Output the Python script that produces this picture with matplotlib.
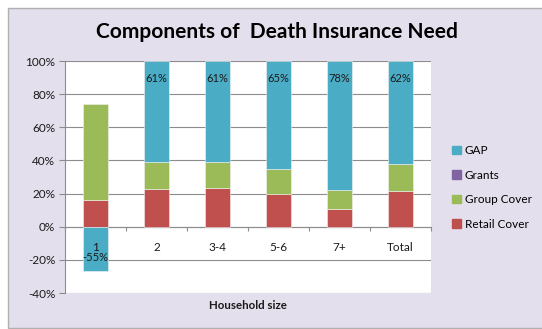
import matplotlib
matplotlib.use("Agg")
import matplotlib.pyplot as plt
from matplotlib.patches import Rectangle
from matplotlib.ticker import FuncFormatter, FixedLocator
import numpy as np

plt.rcParams['font.family'] = ['Lato', 'DejaVu Sans']

# Household size categories
categories = ["1", "2", "3-4", "5-6", "7+", "Total"]

# Stacked components (% of need)
retail_cover = [16, 23, 23.5, 20, 10.5, 21.5]
group_cover = [58, 16, 15.5, 15, 11.5, 16.5]
grants = [0, 0, 0, 0, 0, 0]
gap = [-27, 61, 61, 65, 78, 62]

# Printed GAP share for each household size
gap_labels = ["-55%", "61%", "61%", "65%", "78%", "62%"]

title = "Components of  Death Insurance Need"
x_title = "Household size"
y_ticks = [-40, -20, 0, 20, 40, 60, 80, 100]

c_retail = "#C0504D"
c_group = "#9BBB59"
c_grants = "#8064A2"
c_gap = "#4BACC6"
bg = "#E4DFEC"

fig = plt.figure(figsize=(5.42, 3.29), dpi=100, facecolor="white")

# Chart area panel
fig.patches.append(Rectangle((8 / 542, 1 / 329), 1 - 8 / 542 + 0.01, (328 - 8) / 329,
                             transform=fig.transFigure, facecolor=bg,
                             edgecolor="#B0B0B0", linewidth=1.0, zorder=-10))

ax = fig.add_axes([65 / 542, 1 - 293 / 329, (431 - 65) / 542, (293 - 61) / 329])
ax.set_facecolor("white")

x = np.arange(len(categories))
w = 0.4
edge = dict(edgecolor="#F2F2F2", linewidth=0.4)

retail = np.array(retail_cover, dtype=float)
group = np.array(group_cover, dtype=float)
grant = np.array(grants, dtype=float)
gapv = np.array(gap, dtype=float)

ax.bar(x, retail, w, color=c_retail, zorder=3, **edge)
ax.bar(x, group, w, bottom=retail, color=c_group, zorder=3, **edge)
ax.bar(x, grant, w, bottom=retail + group, color=c_grants, zorder=3, linewidth=0)
# positive gaps stack on top, negative gaps hang below zero
gap_bottom = np.where(gapv >= 0, retail + group + grant, 0)
ax.bar(x, gapv, w, bottom=gap_bottom, color=c_gap, zorder=3, **edge)

for xi, b, v, lab in zip(x, gap_bottom, gapv, gap_labels):
    top = b + v
    if v >= 0:
        ax.text(xi, top - 10.5, lab, ha="center", va="center", fontsize=8, color="#1A1A1A", zorder=5)
    else:
        ax.text(xi, -18.5, lab, ha="center", va="center", fontsize=8, color="#1A1A1A", zorder=5)

ax.set_xlim(-0.5, len(categories) - 0.5)
ax.set_ylim(-40, 100)
ax.yaxis.set_major_locator(FixedLocator(y_ticks))
ax.yaxis.set_major_formatter(FuncFormatter(lambda v, p: f"{v:.0f}%"))
ax.grid(axis="y", color="#8C8C8C", linewidth=0.8, zorder=0)
ax.set_axisbelow(True)

for s in ["top", "right"]:
    ax.spines[s].set_visible(False)
ax.spines["left"].set_color("#8C8C8C")
ax.spines["left"].set_linewidth(0.8)
ax.spines["bottom"].set_position(("data", 0))
ax.spines["bottom"].set_color("#8C8C8C")
ax.spines["bottom"].set_linewidth(0.8)

ax.tick_params(axis="y", length=4, width=0.8, color="#8C8C8C", labelsize=8.5, pad=3, labelcolor="#1A1A1A")
ax.set_xticks(np.arange(len(categories) + 1) - 0.5)
ax.set_xticklabels([])
ax.tick_params(axis="x", length=3, width=0.8, color="#8C8C8C", direction="out")
for xi, c in zip(x, categories):
    ax.text(xi, -12.5, c, ha="center", va="center", fontsize=8.5, color="#1A1A1A", zorder=5)

fig.text(248 / 542, 1 - 305.5 / 329, x_title, ha="center", va="center", fontsize=8.3,
         fontweight="bold", color="#1A1A1A")
fig.text(277 / 542, 1 - 32 / 329, title, ha="center", va="center", fontsize=15,
         fontweight="bold", color="black")

# Legend
handles = [plt.Rectangle((0, 0), 1, 1, color=c) for c in [c_gap, c_grants, c_group, c_retail]]
names = ["GAP", "Grants", "Group Cover", "Retail Cover"]
fig.legend(handles, names, loc="upper left", bbox_to_anchor=(452 / 542, 1 - 145 / 329),
           frameon=False, fontsize=8.5, handlelength=0.75, handleheight=0.75,
           handletextpad=0.35, labelspacing=1.15, borderaxespad=0, borderpad=0)

fig.savefig("out.png", dpi=100, facecolor="white")
